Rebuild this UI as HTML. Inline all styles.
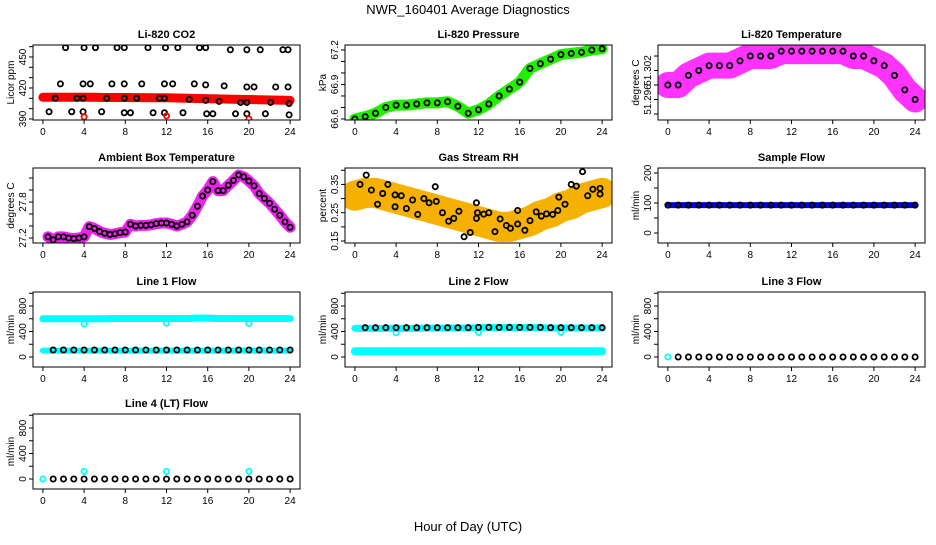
<!DOCTYPE html>
<html><head><meta charset="utf-8"><style>
body{margin:0;background:#fff;}
svg text{font-family:"Liberation Sans",sans-serif;}
</style></head><body>
<svg id="c" width="936" height="540" xmlns="http://www.w3.org/2000/svg">
<text x="468" y="14" font-size="13" text-anchor="middle">NWR_160401  Average Diagnostics</text>
<text x="468" y="531" font-size="13" text-anchor="middle">Hour of Day (UTC)</text>
</svg>
<script>
const hours = [0,1,2,3,4,5,6,7,8,9,10,11,12,13,14,15,16,17,18,19,20,21,22,23,24];
const xTicks = [0,4,8,12,16,20,24];
// CO2
const co2Band = [411,411,411,411,411,411,410.8,410.8,410.8,410.6,410.6,410.5,410.5,410.3,410,409.8,409.6,409.4,409.2,409,408.8,408.6,408.4,408.2,408];
const co2Hours = [2.2,4.0,5.1,7.2,7.9,10.2,11.9,13.1,15.2,15.8,18.2,19.8,21.1,23.3,23.8,1.7,3.9,4.6,6.7,7.9,9.6,11.8,12.6,14.7,15.8,17.6,19.8,20.5,22.6,23.8,1.2,3.3,3.9,6.2,7.9,9.1,11.3,11.8,14.2,15.8,17.1,19.2,19.8,22.1,23.9,0.6,2.8,3.9,5.7,7.9,8.5,10.7,11.8,13.6,15.9,16.5,18.7,19.8,21.6,23.9];
const co2Vals = [459,459,459,459,459,459,459,459,459,459,457,457,457,457,457,424,424,424,424,424,424,424,424,424,423,422,421,421,421,421,410,410,410,410,410,410,410,410,409,408,407,406,406,406,405,397,397,397,397,396,396,396,396,396,395,395,395,395,395,394];
const co2RedHours = [4,12,20];
const co2RedVals = [392,393,390];
// Pressure
const presVals = [66.6,66.62,66.65,66.7,66.72,66.72,66.73,66.74,66.74,66.75,66.71,66.65,66.68,66.73,66.8,66.86,66.92,67.04,67.08,67.12,67.16,67.17,67.18,67.2,67.21];
// Li-820 temperature
const ltempVals = [51.299,51.299,51.301,51.302,51.303,51.303,51.303,51.304,51.305,51.305,51.305,51.306,51.306,51.306,51.306,51.306,51.306,51.306,51.305,51.305,51.304,51.303,51.301,51.298,51.296];
// Ambient box temperature
const ambHours = [0.5,1,1.5,2,2.5,3,3.5,4,4.5,5,5.5,6,6.5,7,7.5,8,8.5,9,9.5,10,10.5,11,11.5,12,12.5,13,13.5,14,14.5,15,15.5,16,16.5,17,17.5,18,18.5,19,19.5,20,20.5,21,21.5,22,22.5,23,23.5,24];
const ambVals = [27.22,27.17,27.22,27.22,27.2,27.19,27.2,27.22,27.39,27.36,27.31,27.28,27.26,27.27,27.29,27.3,27.43,27.4,27.41,27.41,27.42,27.44,27.45,27.45,27.43,27.4,27.43,27.47,27.58,27.73,27.9,28.0,28.14,27.99,27.99,28.08,28.16,28.25,28.22,28.15,28.07,27.94,27.86,27.78,27.68,27.58,27.47,27.38];
// Gas stream RH
const rhHours = [0.5,1.1,1.6,2.2,2.7,3.2,3.9,3.9,4.5,5.0,5.6,6.1,6.7,7.2,7.8,7.9,8.5,9.1,9.6,10.1,10.6,11.2,11.8,11.8,11.9,12.5,13.0,13.6,14.1,14.7,15.1,15.8,15.8,16.5,17.0,17.6,18.1,18.6,19.2,19.7,19.8,20.4,21.0,21.5,22.1,22.6,23.1,23.8,23.8];
const rhVals = [0.35,0.383,0.33,0.28,0.318,0.35,0.313,0.271,0.31,0.265,0.295,0.244,0.30,0.285,0.342,0.29,0.25,0.22,0.23,0.255,0.165,0.18,0.285,0.23,0.25,0.245,0.25,0.183,0.228,0.205,0.195,0.21,0.258,0.188,0.222,0.253,0.238,0.246,0.244,0.258,0.305,0.28,0.35,0.344,0.395,0.31,0.333,0.336,0.316];
const rhBand = [0.31,0.32,0.32,0.31,0.3,0.29,0.28,0.27,0.26,0.25,0.24,0.23,0.22,0.21,0.2,0.2,0.21,0.22,0.24,0.25,0.27,0.28,0.3,0.31,0.32];
// Sample flow
const sampleVals = [93,93,93,93,93,93,93,93,93,93,93,93,93,93,93,93,93,93,93,93,93,93,93,93,93];
// Line flows
const line1Cyan = [600,600,600,600,600,600,600,605,605,605,605,605,605,605,605,610,610,605,605,605,605,605,605,605,605];
const line1Low = [100,100,100,100,100,100,100,100,100,100,100,100,100,100,100,100,100,100,100,100,100,100,100,100,100];
const line1Black = [110,110,110,110,110,110,110,110,110,110,110,110,110,110,110,110,110,110,110,110,110,110,110,110,110];
const dipHours = [4,12,20];
const line1Dips = [520,530,525];
const line2Cyan = [450,450,450,450,450,450,450,455,455,455,455,455,460,460,460,460,460,460,460,455,455,455,455,455,455];
const line2Low = [90,90,90,90,90,90,90,90,90,90,90,90,90,90,90,90,90,90,90,90,90,90,90,90,90];
const line2Black = [460,460,460,460,460,460,460,460,460,460,460,460,465,465,465,465,465,465,465,460,460,460,460,460,460];
const line2Dips = [380,385,385];
const line3Vals = [0,0,0,0,0,0,0,0,0,0,0,0,0,0,0,0,0,0,0,0,0,0,0,0,0];
const line4Spikes = [120,120,120];

const svg = document.getElementById('c');
const NS = 'http://www.w3.org/2000/svg';
function mk(tag, attrs, parent){const e=document.createElementNS(NS,tag);for(const k in attrs)e.setAttribute(k,attrs[k]);(parent||svg).appendChild(e);return e;}

const colL = [33,345,658], rowT = [45,168,292,414], W = 267, H = 75;

function panel(col,row,title,ylab,ymin,ymax,yticks,ylabels){
  const x0=colL[col], y0=rowT[row];
  const g=mk('g',{});
  
  
  const sx=h=>x0+W*(h+0.96)/25.92;
  const sy=v=>y0+H-(v-ymin)/(ymax-ymin)*H;
  const t=mk('text',{x:x0+W/2,y:y0-7,'font-size':11,'font-weight':'bold','text-anchor':'middle'},g);t.textContent=title;
  
  
  const yl=mk('text',{transform:`translate(${x0-19},${y0+H/2}) rotate(-90)`,'font-size':10,'text-anchor':'middle'},g);yl.textContent=ylab;
  
  
  xTicks.forEach(h=>{const x=sx(h);mk('line',{x1:x,x2:x,y1:y0+H,y2:y0+H+4,stroke:'#000'},g);
    const tx=mk('text',{x:x,y:y0+H+15,'font-size':10,'text-anchor':'middle'},g);tx.textContent=h;
    
    });
  yticks.forEach((v,i)=>{const y=sy(v);mk('line',{x1:x0-4,x2:x0,y1:y,y2:y,stroke:'#000'},g);
    if(ylabels[i]){const ty=mk('text',{transform:`translate(${x0-7},${y}) rotate(-90)`,'font-size':10,'text-anchor':'middle'},g);ty.textContent=ylabels[i];
    
    }});
  const clip='clip'+col+row;
  const cp=mk('clipPath',{id:clip},g);mk('rect',{x:x0,y:y0,width:W,height:H},cp);
  const d=mk('g',{'clip-path':`url(#${clip})`},g);
  mk('rect',{x:x0,y:y0,width:W,height:H,fill:'none',stroke:'#000'},g);
  return {sx,sy,d};
}
function band(p,xs,vs,color,w,name){
  const pl=mk('polyline',{points:xs.map((h,i)=>p.sx(h)+','+p.sy(vs[i])).join(' '),fill:'none',stroke:color,'stroke-width':w,'stroke-linejoin':'round','stroke-linecap':'round'},p.d);
  
  
}
function pts(p,xs,vs,color,name,r){
  xs.forEach((h,i)=>{const c=mk('circle',{cx:p.sx(h),cy:p.sy(vs[i]),r:r||2.6,fill:'none',stroke:color,'stroke-width':1.8},p.d);
    
    });
}

// Panel 1 CO2
let p=panel(0,0,'Li-820 CO2','Licor ppm',389,461.6,[390,400,410,420,430,440,450,460],['390','','','420','','','450','']);
band(p,hours,co2Band,'#ff0000',9,'co2-band');
pts(p,co2Hours,co2Vals,'#000','co2-point');
pts(p,co2RedHours,co2RedVals,'#ff0000','co2-outlier');
// Panel 2 pressure
p=panel(1,0,'Li-820 Pressure','kPa',66.591,67.243,[66.6,66.7,66.8,66.9,67.0,67.1,67.2],['66.6','','','66.9','','','67.2']);
band(p,hours,presVals,'#22ee00',11,'pressure-band');
pts(p,hours,presVals,'#000','pressure-point');
// Panel 3 Li temp
p=panel(2,0,'Li-820 Temperature','degrees C',51.29176,51.30728,[51.293,51.296,51.299,51.302,51.305],['','51.296','','51.302','']);
band(p,hours,ltempVals,'#ff33ff',26,'li-temp-band');
pts(p,hours,ltempVals,'#000','li-temp-point');
// Panel 4 ambient
p=panel(0,1,'Ambient Box Temperature','degrees C',27.117,28.367,[27.2,27.4,27.6,27.8,28.0,28.2],['27.2','','','27.8','','']);
band(p,ambHours,ambVals,'#ee22ee',11,'ambient-band');
pts(p,ambHours,ambVals,'#000','ambient-point');
// Panel 5 RH
p=panel(1,1,'Gas Stream RH','percent',0.143,0.408,[0.15,0.2,0.25,0.3,0.35,0.4],['0.15','','0.25','','0.35','']);
band(p,hours,rhBand,'#f5b000',30,'rh-band');
pts(p,rhHours,rhVals,'#000','rh-point');
// Panel 6 Sample flow
p=panel(2,1,'Sample Flow','ml/min',-33.3,216.7,[0,50,100,150,200],['0','','100','','200']);
band(p,hours,sampleVals,'#0000ee',6,'sample-band');
pts(p,hours,sampleVals,'#000','sample-point');
// Line flows
const lt=[0,200,400,600,800,1000], ll=['0','','400','','800',''];
p=panel(0,2,'Line 1 Flow','ml/min',-157,1020,lt,ll);
band(p,hours,line1Cyan,'#00ffff',7,'line1-high-band');
band(p,hours,line1Low,'#00ffff',6,'line1-low-band');
pts(p,dipHours,line1Dips,'#00ffff','line1-dip');
pts(p,hours.slice(1),line1Black.slice(1),'#000','line1-point');
p=panel(1,2,'Line 2 Flow','ml/min',-157,1020,lt,ll);
band(p,hours,line2Cyan,'#00ffff',7,'line2-high-band');
band(p,hours,line2Low,'#00ffff',8,'line2-low-band');
pts(p,dipHours,line2Dips,'#00ffff','line2-dip');
pts(p,hours.slice(1),line2Black.slice(1),'#000','line2-point');
p=panel(2,2,'Line 3 Flow','ml/min',-157,1020,lt,ll);
pts(p,[0],[0],'#00ffff','line3-cyan-point');
pts(p,hours.slice(1),line3Vals.slice(1),'#000','line3-point');
p=panel(0,3,'Line 4 (LT) Flow','ml/min',-157,1020,lt,ll);
pts(p,dipHours,line4Spikes,'#00ffff','line4-spike');
pts(p,[0],[0],'#00ffff','line4-cyan-point');
pts(p,hours.slice(1),line3Vals.slice(1),'#000','line4-point');
</script>
</body></html>
